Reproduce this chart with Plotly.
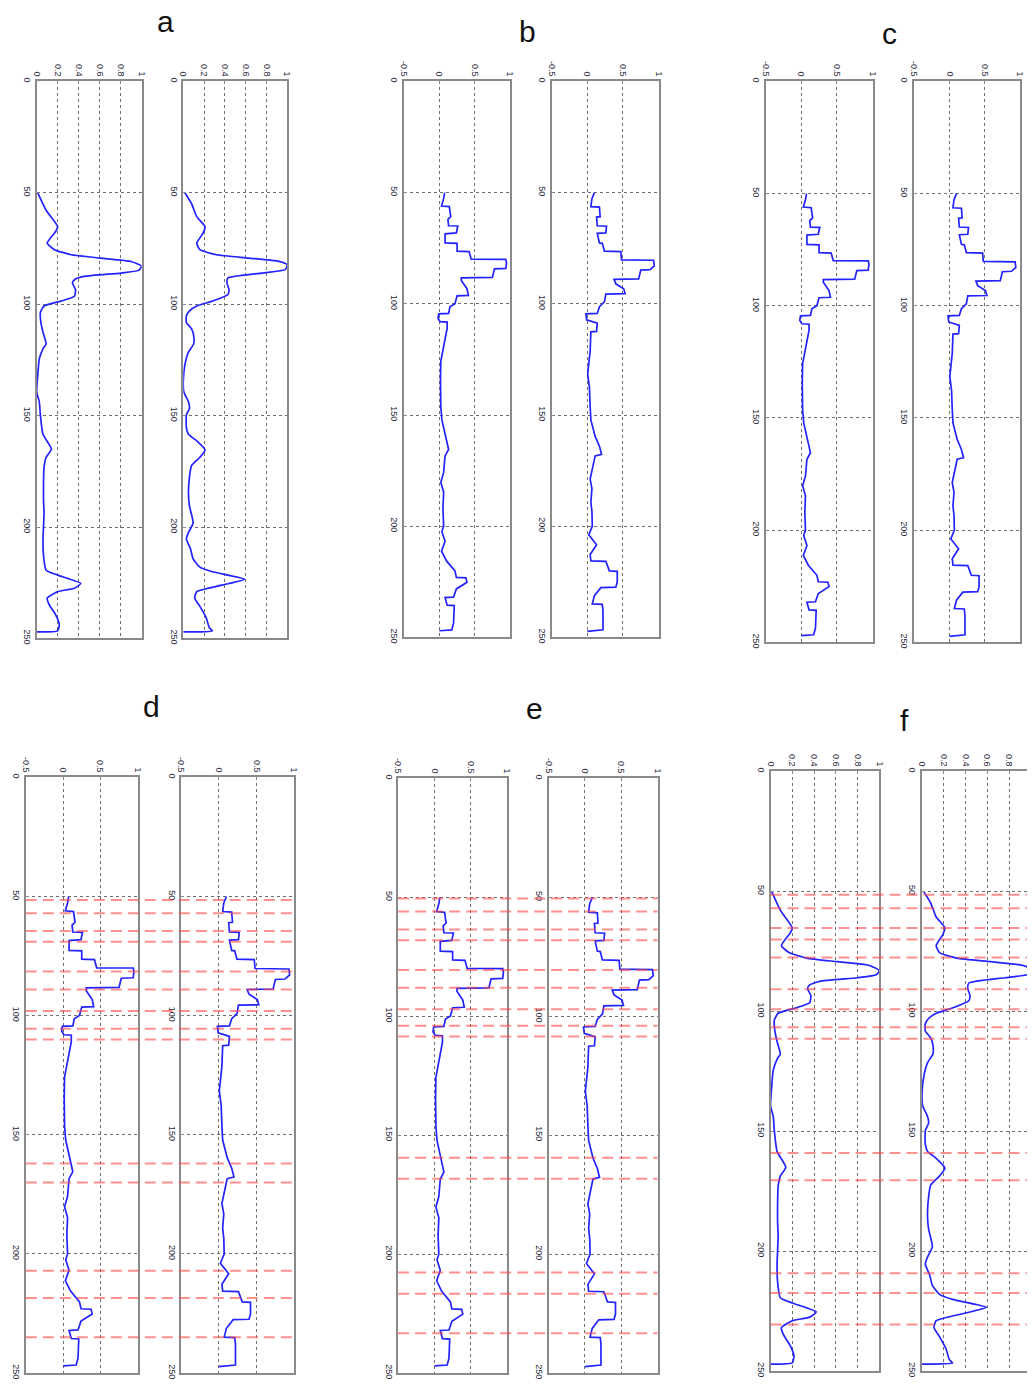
import plotly.graph_objects as go

W, H = 1032, 1391

# Smooth profiles (index, value) used in panels a and f
smooth_left = [(50, 0.01), (57.8, 0.09), (65.2, 0.2), (67.4, 0.18), (72.6, 0.10), (75.5, 0.17),
               (77.8, 0.33), (79.3, 0.61), (80.8, 0.90), (83, 1.0), (84.8, 0.97), (86, 0.80),
               (87.5, 0.45), (89, 0.36), (90.5, 0.34), (93.4, 0.37), (96.4, 0.36), (98.6, 0.23),
               (100.8, 0.07), (103.7, 0.035), (108.2, 0.04), (112.6, 0.06), (117.8, 0.09),
               (120, 0.06), (124.5, 0.025), (132, 0.01), (139.4, 0.0), (143.8, 0.025),
               (149.7, 0.035), (158.4, 0.06), (165, 0.14), (168.7, 0.09), (173, 0.07),
               (180.4, 0.065), (187.8, 0.065), (193.7, 0.07), (200, 0.065), (205.4, 0.06),
               (212.8, 0.065), (219.4, 0.09), (221.6, 0.2), (225.3, 0.42), (227.5, 0.36),
               (229, 0.2), (231.9, 0.10), (234.9, 0.12), (239.3, 0.18), (243.7, 0.215),
               (246.6, 0.2), (247.1, 0.0)]

smooth_right = [(50, 0.015), (54.9, 0.08), (60.7, 0.13), (65.2, 0.21), (68.1, 0.19), (72.6, 0.13),
                (75.5, 0.16), (77.8, 0.32), (79.3, 0.63), (80.8, 0.92), (82.3, 1.0), (84.5, 0.98),
                (86, 0.76), (88.2, 0.43), (90.5, 0.42), (93.4, 0.44), (95.6, 0.43), (98.6, 0.28),
                (100.8, 0.13), (103, 0.06), (105.2, 0.03), (108.2, 0.03), (111.1, 0.08),
                (114, 0.10), (117.8, 0.10), (121.5, 0.05), (127.4, 0.015), (134.8, 0.0),
                (139.3, 0.005), (143.8, 0.05), (146.7, 0.06), (149.7, 0.03), (155.4, 0.03),
                (158.4, 0.05), (161.3, 0.13), (165.4, 0.21), (168.7, 0.16), (172.4, 0.08),
                (177.5, 0.06), (184.9, 0.05), (190.7, 0.06), (198.1, 0.095), (202.5, 0.05),
                (205.4, 0.03), (209.9, 0.07), (214.3, 0.095), (218, 0.16), (220.1, 0.28),
                (223.4, 0.59), (226, 0.38), (229, 0.13), (231.9, 0.11), (235.6, 0.16),
                (240.7, 0.22), (245.1, 0.25), (246.6, 0.28), (247.1, 0.0)]

# Piecewise-constant profiles (index, value) used in panels b, c, d, e
step_left = [(50, 0.075), (52.7, 0.06), (56, 0.03), (56.3, 0.14), (60.8, 0.16), (62, 0.12),
             (64.9, 0.13), (65, 0.26), (68.1, 0.24), (68.5, 0.08), (72.6, 0.08), (72.8, 0.25),
             (76.3, 0.25), (76.5, 0.42), (79.9, 0.45), (80, 0.94), (81.4, 0.95), (84.1, 0.94),
             (84.3, 0.78), (88.1, 0.75), (88.3, 0.31), (89.5, 0.31), (93.2, 0.39), (96.2, 0.41),
             (96.4, 0.25), (99.9, 0.22), (101.3, 0.15), (104.3, 0.13), (104.5, -0.01),
             (106.5, -0.02), (108, 0.01), (108.2, 0.11), (110.9, 0.11), (116.8, 0.075),
             (121.2, 0.05), (125.7, 0.02), (134.5, 0.015), (140.4, 0.015), (146.3, 0.02),
             (152.2, 0.035), (161.1, 0.1), (165.5, 0.13), (168.4, 0.08), (175.8, 0.06),
             (180.2, 0.02), (184.7, 0.06), (192, 0.05), (200, 0.06), (202.4, 0.035),
             (206.8, 0.08), (211.2, 0.03), (215.6, 0.1), (220.1, 0.22), (223, 0.24),
             (223.2, 0.375), (225.2, 0.39), (228.2, 0.24), (231.9, 0.2), (232.1, 0.08),
             (235.5, 0.11), (235.7, 0.21), (237.8, 0.21), (243.7, 0.2), (246.6, 0.175),
             (247, 0.0)]

step_right = [(50, 0.10), (52.7, 0.065), (56.3, 0.05), (56.5, 0.17), (60.8, 0.18), (61, 0.13),
              (64.9, 0.14), (65.1, 0.27), (68.1, 0.26), (68.3, 0.14), (72.6, 0.17), (72.8, 0.21),
              (76.3, 0.24), (76.5, 0.47), (80.2, 0.48), (80.4, 0.93), (82.9, 0.94), (84.6, 0.88),
              (84.8, 0.75), (88.8, 0.72), (89, 0.375), (91, 0.40), (93.2, 0.51), (95.4, 0.53),
              (95.6, 0.26), (99.1, 0.24), (101.3, 0.17), (104.3, 0.14), (104.5, -0.02),
              (107.2, -0.01), (108.7, 0.14), (112.4, 0.13), (112.6, 0.05), (121.2, 0.04),
              (131.6, 0.005), (137.5, 0.03), (146.3, 0.04), (152.2, 0.05), (159.6, 0.11),
              (164, 0.17), (167.7, 0.20), (168.4, 0.11), (174.3, 0.07), (178.8, 0.04),
              (183.2, 0.065), (189.1, 0.05), (193.5, 0.065), (200, 0.07), (203.9, 0.02),
              (208.3, 0.13), (212.7, 0.04), (215.6, 0.05), (215.8, 0.26), (220.1, 0.31),
              (220.3, 0.42), (225.2, 0.42), (227.4, 0.40), (227.6, 0.19), (231.2, 0.10),
              (234.9, 0.07), (235.1, 0.21), (237.8, 0.22), (246.6, 0.22), (247.3, 0.0)]

# Index positions of the dashed segment markers
marks_d = [51.5, 57, 64.5, 69, 81.5, 89, 98, 105.5, 110, 162, 170, 207, 218.5, 235]
marks_e = [50.5, 56, 63.5, 68, 80.5, 88, 97, 104, 108.5, 159.5, 168.3, 207.7, 216.6, 233.3]
marks_f = [51.4, 57, 65.3, 70.1, 77.6, 90.8, 99.1, 106.6, 111.4, 159.1, 170.4, 209.2, 217.4, 230.6]

unit_ticks = [0, 0.2, 0.4, 0.6, 0.8, 1]
unit_text = ["0", "0.2", "0.4", "0.6", "0.8", "1"]
wide_ticks = [-0.5, 0, 0.5, 1]
wide_text = ["-0.5", "0", "0.5", "1"]
index_ticks = [0, 50, 100, 150, 200, 250]
index_text = ["0", "50", "100", "150", "200", "250"]

panel_letters = ["a", "b", "c", "d", "e", "f"]

# panel boxes in pixels: (left, right, top, bottom)
panels = [
    ("a", smooth_left,  (32, 138, 78, 639),   "unit"),
    ("a", smooth_right, (180, 285, 78, 639),  "unit"),
    ("b", step_left,    (403, 510, 78, 638),  "wide"),
    ("b", step_right,   (552, 660, 78, 638),  "wide"),
    ("c", step_left,    (768, 876, 78, 643),  "wide"),
    ("c", step_right,   (918, 1025, 78, 643), "wide"),
    ("d", step_left,    (21, 134, 779, 1379), "wide"),
    ("d", step_right,   (178, 292, 779, 1379), "wide"),
    ("e", step_left,    (397, 507, 780, 1379), "wide"),
    ("e", step_right,   (549, 659, 780, 1379), "wide"),
    ("f", smooth_left,  (773, 883, 773, 1377), "unit"),
    ("f", smooth_right, (926, 1036, 773, 1377), "unit"),
]

letter_pos = {"a": (162, 18), "b": (528, 28), "c": (893, 30),
              "d": (148, 708), "e": (535, 710), "f": (908, 722)}

tick_font = dict(family="Liberation Sans, Arial, sans-serif", size=9, color="#2a2a3a")
frame = "#8a8a8a"
grid = "#6e6e6e"

fig = go.Figure()
layout = {}

for i, (letter, prof, (l, r, t, b), kind) in enumerate(panels):
    n = i + 1
    xa = "xaxis" if n == 1 else f"xaxis{n}"
    ya = "yaxis" if n == 1 else f"yaxis{n}"
    xr = "x" if n == 1 else f"x{n}"
    yr = "y" if n == 1 else f"y{n}"

    idx = [p[0] for p in prof]
    val = [p[1] for p in prof]
    smooth = kind == "unit"
    fig.add_trace(go.Scatter(
        x=val, y=idx, xaxis=xr, yaxis=yr, mode="lines",
        line=dict(color="#2323ff", width=1.7,
                  shape="spline" if smooth else "linear",
                  smoothing=0.5 if smooth else None),
        showlegend=False, hoverinfo="skip"))

    right_edge = min(r, W)
    if kind == "unit":
        lo, hi = 0.0, 1.0
        tv, tt = unit_ticks, unit_text
    else:
        lo, hi = -0.5, 1.0
        tv, tt = wide_ticks, wide_text
    hi_vis = lo + (hi - lo) * (right_edge - l) / (r - l)

    layout[xa] = dict(
        domain=[l / W, right_edge / W], anchor=yr, side="top",
        range=[lo, hi_vis], tickvals=tv, ticktext=tt, tickangle=90,
        tickfont=tick_font, ticks="inside", ticklen=3, tickcolor=frame,
        showgrid=True, gridcolor=grid, griddash="dot", gridwidth=1,
        zeroline=False, showline=True, linecolor=frame, linewidth=1.6,
        mirror=True, fixedrange=True)
    layout[ya] = dict(
        domain=[1 - b / H, 1 - t / H], anchor=xr,
        range=[250, 0], tickvals=index_ticks, ticktext=index_text, tickangle=90,
        tickfont=tick_font, ticks="inside", ticklen=3, tickcolor=frame,
        showgrid=True, gridcolor=grid, griddash="dot", gridwidth=1,
        zeroline=False, showline=True, linecolor=frame, linewidth=1.6,
        mirror=(r <= W), fixedrange=True)

# dashed segment markers spanning each pair of panels in the lower row
shapes = []
for marks, left_panel, right_panel in [(marks_d, 6, 7), (marks_e, 8, 9), (marks_f, 10, 11)]:
    l = panels[left_panel][2][0]
    r = min(panels[right_panel][2][1], W)
    yr = f"y{left_panel + 1}"
    for m in marks:
        shapes.append(dict(type="line", xref="paper", yref=yr,
                           x0=l / W, x1=r / W, y0=m, y1=m, layer="above",
                           line=dict(color="rgba(255,70,70,0.6)", width=2, dash="11px,6px")))

annotations = []
for letter in panel_letters:
    cx, cy = letter_pos[letter]
    annotations.append(dict(text=letter, xref="paper", yref="paper",
                            x=cx / W, y=1 - cy / H, showarrow=False,
                            xanchor="center", yanchor="middle",
                            font=dict(family="Liberation Sans, Arial, sans-serif",
                                      size=30, color="#111")))

fig.update_layout(width=W, height=H, margin=dict(l=0, r=0, t=0, b=0),
                  paper_bgcolor="white", plot_bgcolor="white",
                  shapes=shapes, annotations=annotations, **layout)

fig.write_html("out.html", include_plotlyjs=True)
